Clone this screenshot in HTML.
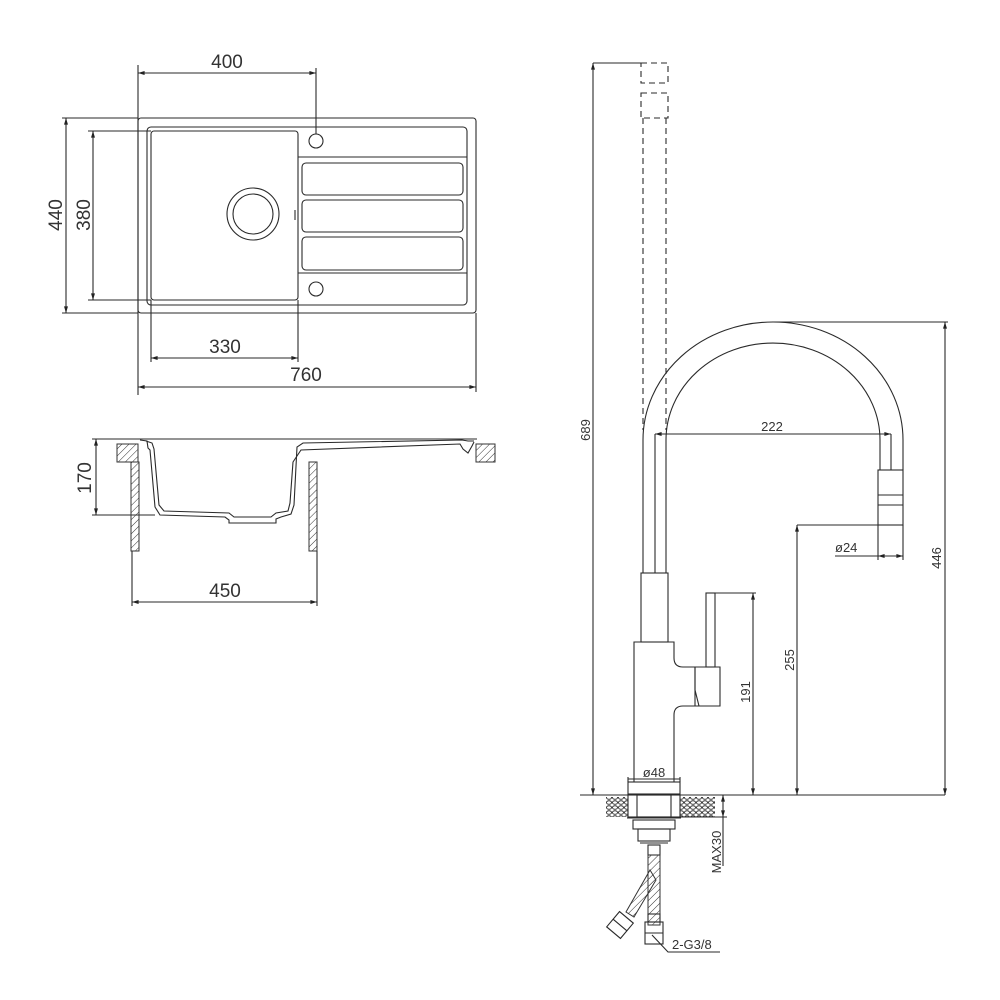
<!DOCTYPE html>
<html><head><meta charset="utf-8"><style>
html,body{margin:0;padding:0;background:#fff;}
svg{display:block;}
.l{fill:none;stroke:#2a2a2a;stroke-width:1.1}
.t{font-family:"Liberation Sans",sans-serif;font-size:19px;fill:#333}
.s{font-family:"Liberation Sans",sans-serif;font-size:13px;fill:#333}
</style></head><body>
<svg width="1000" height="1000" viewBox="0 0 1000 1000" xmlns="http://www.w3.org/2000/svg">
<defs>
<marker id="a" viewBox="0 0 10 10" refX="10" refY="5" markerWidth="9" markerHeight="6" orient="auto-start-reverse"><path d="M0,2 L10,5 L0,8 z" fill="#222"/></marker>
<pattern id="h" width="5" height="5" patternUnits="userSpaceOnUse" patternTransform="rotate(45)"><line x1="0" y1="0" x2="0" y2="5" stroke="#333" stroke-width="1"/></pattern>
<pattern id="st" width="6" height="5" patternUnits="userSpaceOnUse"><ellipse cx="3" cy="2.5" rx="2.5" ry="1.8" fill="none" stroke="#333" stroke-width="1"/></pattern>
</defs>

<!-- SINK TOP VIEW -->
<rect class="l" x="138" y="118" width="338" height="195" rx="3"/>
<rect class="l" x="147" y="127" width="320" height="178" rx="4"/>
<rect class="l" x="151" y="131" width="147" height="169" rx="3"/>
<circle class="l" cx="253" cy="214" r="26"/>
<circle class="l" cx="253" cy="214" r="20"/>
<circle class="l" cx="316" cy="141" r="7"/>
<circle class="l" cx="316" cy="289" r="7"/>
<line class="l" x1="298" y1="157" x2="467" y2="157"/>
<line class="l" x1="298" y1="273" x2="467" y2="273"/>
<rect class="l" x="302" y="163" width="161" height="32" rx="4"/>
<rect class="l" x="302" y="200" width="161" height="32" rx="4"/>
<rect class="l" x="302" y="237" width="161" height="33" rx="4"/>
<line class="l" x1="295" y1="210" x2="295" y2="220"/>
<line class="l" x1="138" y1="65" x2="138" y2="395"/>
<line class="l" x1="316" y1="68" x2="316" y2="134"/>
<line class="l" x1="138" y1="73" x2="316" y2="73" marker-start="url(#a)" marker-end="url(#a)"/>
<text class="t" x="227" y="68" text-anchor="middle">400</text>
<line class="l" x1="62" y1="118" x2="138" y2="118"/>
<line class="l" x1="62" y1="313" x2="138" y2="313"/>
<line class="l" x1="66" y1="118" x2="66" y2="313" marker-start="url(#a)" marker-end="url(#a)"/>
<text class="t" transform="translate(62,215) rotate(-90)" text-anchor="middle">440</text>
<line class="l" x1="88" y1="131" x2="151" y2="131"/>
<line class="l" x1="88" y1="300" x2="151" y2="300"/>
<line class="l" x1="93" y1="131" x2="93" y2="300" marker-start="url(#a)" marker-end="url(#a)"/>
<text class="t" transform="translate(90,215) rotate(-90)" text-anchor="middle">380</text>
<line class="l" x1="151" y1="300" x2="151" y2="362"/>
<line class="l" x1="298" y1="300" x2="298" y2="362"/>
<line class="l" x1="151" y1="358" x2="298" y2="358" marker-start="url(#a)" marker-end="url(#a)"/>
<text class="t" x="225" y="353" text-anchor="middle">330</text>
<line class="l" x1="476" y1="313" x2="476" y2="392"/>
<line class="l" x1="138" y1="387" x2="476" y2="387" marker-start="url(#a)" marker-end="url(#a)"/>
<text class="t" x="306" y="381" text-anchor="middle">760</text>

<!-- SINK SECTION -->
<line class="l" x1="92" y1="439" x2="477" y2="439"/>
<line class="l" x1="92" y1="515" x2="155" y2="515"/>
<line class="l" x1="96" y1="439" x2="96" y2="515" marker-start="url(#a)" marker-end="url(#a)"/>
<text class="t" transform="translate(91,478) rotate(-90)" text-anchor="middle">170</text>
<rect x="117" y="444" width="21" height="18" fill="url(#h)" stroke="#333"/>
<rect x="131" y="462" width="8" height="89" fill="url(#h)" stroke="#333"/>
<rect x="309" y="462" width="8" height="89" fill="url(#h)" stroke="#333"/>
<rect x="476" y="444" width="19" height="18" fill="url(#h)" stroke="#333"/>
<path class="l" d="M140,440 L147,441 L148,448 L150,450 L155,507 L160,515 L225,517 L229,520 L229,523 L276,523 L276,519 L281,517 L291,514 L294,505 L297,447 L303,443 L462,440 L468,441 L474,441"/>
<path class="l" d="M146,441 L152,443 L154,449 L159,505 L164,511 L229,513 L234,517 L271,517 L276,513 L288,511 L290,503 L293,462 L301,450 L460,444 L463,449 L468,453 L472,446 L474,442"/>
<line class="l" x1="132" y1="551" x2="132" y2="606"/>
<line class="l" x1="317" y1="551" x2="317" y2="606"/>
<line class="l" x1="132" y1="602" x2="317" y2="602" marker-start="url(#a)" marker-end="url(#a)"/>
<text class="t" x="225" y="597" text-anchor="middle">450</text>

<!-- FAUCET -->
<line class="l" x1="593" y1="63" x2="641" y2="63"/>
<line class="l" x1="593" y1="63" x2="593" y2="795" marker-start="url(#a)" marker-end="url(#a)"/>
<text class="s" transform="translate(590,430) rotate(-90)" text-anchor="middle">689</text>
<g class="l" stroke-dasharray="6,4">
<rect x="641" y="63" width="27" height="20" fill="none"/>
<rect x="641" y="93" width="27" height="25" fill="none"/>
<line x1="643" y1="118" x2="643" y2="430"/>
<line x1="666" y1="118" x2="666" y2="430"/>
</g>
<path class="l" d="M643,440 A130,118 0 0 1 903,440 L903,470"/>
<path class="l" d="M666,440 A107,97 0 0 1 880,440 L880,470"/>
<line class="l" x1="643" y1="440" x2="643" y2="573"/>
<line class="l" x1="666" y1="440" x2="666" y2="573"/>
<line class="l" x1="655" y1="434" x2="655" y2="573"/>
<line class="l" x1="891" y1="434" x2="891" y2="470"/>
<rect class="l" x="878" y="470" width="25" height="55"/>
<line class="l" x1="878" y1="495" x2="903" y2="495"/>
<line class="l" x1="878" y1="505" x2="903" y2="505"/>
<line class="l" x1="655" y1="434" x2="891" y2="434" marker-start="url(#a)" marker-end="url(#a)"/>
<text class="s" x="772" y="431" text-anchor="middle">222</text>
<line class="l" x1="773" y1="322" x2="948" y2="322"/>
<line class="l" x1="945" y1="322" x2="945" y2="795" marker-start="url(#a)" marker-end="url(#a)"/>
<text class="s" transform="translate(941,558) rotate(-90)" text-anchor="middle">446</text>
<line class="l" x1="797" y1="525" x2="878" y2="525"/>
<line class="l" x1="797" y1="525" x2="797" y2="795" marker-start="url(#a)" marker-end="url(#a)"/>
<text class="s" transform="translate(794,660) rotate(-90)" text-anchor="middle">255</text>
<line class="l" x1="878" y1="525" x2="878" y2="560"/>
<line class="l" x1="903" y1="525" x2="903" y2="560"/>
<line class="l" x1="835" y1="556" x2="878" y2="556"/>
<line class="l" x1="878" y1="556" x2="903" y2="556" marker-start="url(#a)" marker-end="url(#a)"/>
<text class="s" x="835" y="552">ø24</text>
<rect class="l" x="641" y="573" width="27" height="69"/>
<path class="l" d="M634,782 L634,642 L674,642 L674,658 Q674,667 683,667 L720,667 L720,706 L683,706 Q674,706 674,715 L674,782"/>
<rect class="l" x="706" y="593" width="9" height="74"/>
<path class="l" d="M695,667 L695,690 L699,706"/>
<line class="l" x1="695" y1="667" x2="695" y2="706"/>
<line class="l" x1="715" y1="593" x2="756" y2="593"/>
<line class="l" x1="753" y1="593" x2="753" y2="795" marker-start="url(#a)" marker-end="url(#a)"/>
<text class="s" transform="translate(750,692) rotate(-90)" text-anchor="middle">191</text>
<rect class="l" x="628" y="782" width="52" height="12"/>
<line class="l" x1="628" y1="777" x2="628" y2="782"/>
<line class="l" x1="680" y1="777" x2="680" y2="782"/>
<line class="l" x1="628" y1="779" x2="680" y2="779"/>
<text class="s" x="654" y="777" text-anchor="middle" font-size="11">ø48</text>
<line class="l" x1="580" y1="795" x2="945" y2="795"/>
<rect x="606" y="797" width="22" height="20" fill="url(#st)" stroke="none"/>
<rect x="680" y="797" width="35" height="20" fill="url(#st)" stroke="none"/>
<rect class="l" x="628" y="795" width="52" height="22"/>
<rect class="l" x="637" y="795" width="34" height="22"/>
<line class="l" x1="627" y1="818" x2="681" y2="818" stroke-width="2"/>
<rect class="l" x="633" y="820" width="42" height="9"/>
<rect class="l" x="638" y="829" width="32" height="12"/>
<line class="l" x1="640" y1="843" x2="668" y2="843" stroke-width="2"/>
<rect class="l" x="648" y="845" width="12" height="10"/>
<rect x="648" y="855" width="12" height="70" fill="url(#h)" stroke="#333"/>
<path d="M650,870 L626,912 L634,917 L656,880 z" fill="url(#h)" stroke="#333"/>
<rect class="l" x="645" y="922" width="18" height="22"/>
<rect class="l" x="648" y="914" width="12" height="8"/>
<g transform="translate(620,925) rotate(40)"><rect class="l" x="-9" y="-10" width="18" height="20"/><line class="l" x1="-9" y1="0" x2="9" y2="0"/></g>
<line class="l" x1="645" y1="933" x2="663" y2="933"/>
<line class="l" x1="680" y1="817" x2="727" y2="817"/>
<line class="l" x1="723" y1="795" x2="723" y2="817" marker-start="url(#a)" marker-end="url(#a)"/>
<line class="l" x1="723" y1="817" x2="723" y2="866"/>
<text class="s" transform="translate(721,852) rotate(-90)" text-anchor="middle" font-size="10">MAX30</text>
<polyline class="l" points="652,935 668,952 720,952"/>
<text class="s" x="672" y="949" font-size="11">2-G3/8</text>
</svg>
</body></html>
